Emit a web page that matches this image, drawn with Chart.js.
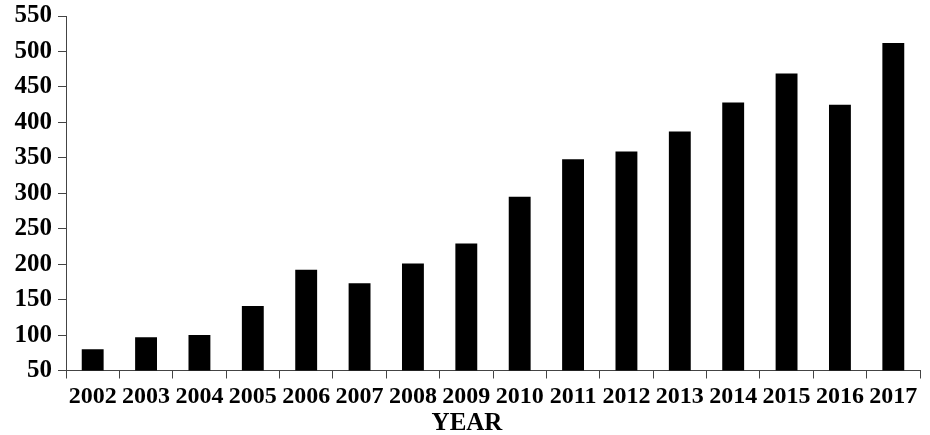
<!DOCTYPE html>
<html>
<head>
<meta charset="utf-8">
<script src="https://cdn.jsdelivr.net/npm/chart.js@4.4.1/dist/chart.umd.min.js"></script>
<style>
  html, body { margin: 0; padding: 0; background: #fff; }
  #wrap { width: 930px; height: 435px; }
</style>
</head>
<body>
<div id="wrap"><canvas id="chart" width="930" height="435"></canvas></div>
<script>
'use strict';

// ── DATA ──────────────────────────────────────────────────────────────
const years  = ['2002', '2003', '2004', '2005', '2006', '2007', '2008', '2009',
                '2010', '2011', '2012', '2013', '2014', '2015', '2016', '2017'];
const values = [80, 97, 100, 141, 192, 173, 201, 229,
                295, 348, 359, 387, 428, 469, 425, 512];
const yMin = 50, yMax = 550, yStep = 50;

const SERIF = "'Liberation Serif', 'Times New Roman', serif";
const AXIS_COLOR = '#444';

new Chart(document.getElementById('chart'), {
  type: 'bar',
  data: {
    labels: years,
    datasets: [{
      data: values,
      backgroundColor: '#000',
      borderWidth: 0,
      barPercentage: 0.41,
      categoryPercentage: 1.0,
    }],
  },
  options: {
    responsive: false,
    animation: false,
    devicePixelRatio: 1,
    // left padding + y width = 66 keeps the plot edge; it also centres the title box
    layout: { padding: { top: 16, right: 10, left: 14, bottom: 0 } },
    plugins: {
      legend: { display: false },
      tooltip: { enabled: false },
      title: {
        display: true,
        text: 'YEAR',
        position: 'bottom',
        color: '#000',
        font: { family: SERIF, size: 25, weight: 'bold', lineHeight: 0.9 },
        padding: { top: 0, bottom: 0 },
      },
    },
    scales: {
      x: {
        afterFit: s => { s.height = 42; },
        grid: {
          offset: true,
          drawOnChartArea: false,
          drawTicks: true,
          tickLength: 8,
          color: AXIS_COLOR,
        },
        border: { display: true, color: AXIS_COLOR, width: 1 },
        ticks: {
          color: '#000',
          padding: 4,
          maxRotation: 0,
          autoSkip: false,
          font: { family: SERIF, size: 24, weight: 'bold' },
        },
      },
      y: {
        min: yMin,
        max: yMax,
        afterFit: s => { s.width = 52; s.paddingTop = 0; },
        grid: {
          drawOnChartArea: false,
          drawTicks: true,
          tickLength: 8,
          color: AXIS_COLOR,
        },
        border: { display: true, color: AXIS_COLOR, width: 1 },
        ticks: {
          stepSize: yStep,
          color: '#000',
          padding: 6,
          font: { family: SERIF, size: 25, weight: 'bold', lineHeight: 1 },
        },
      },
    },
  },
});
</script>
</body>
</html>
